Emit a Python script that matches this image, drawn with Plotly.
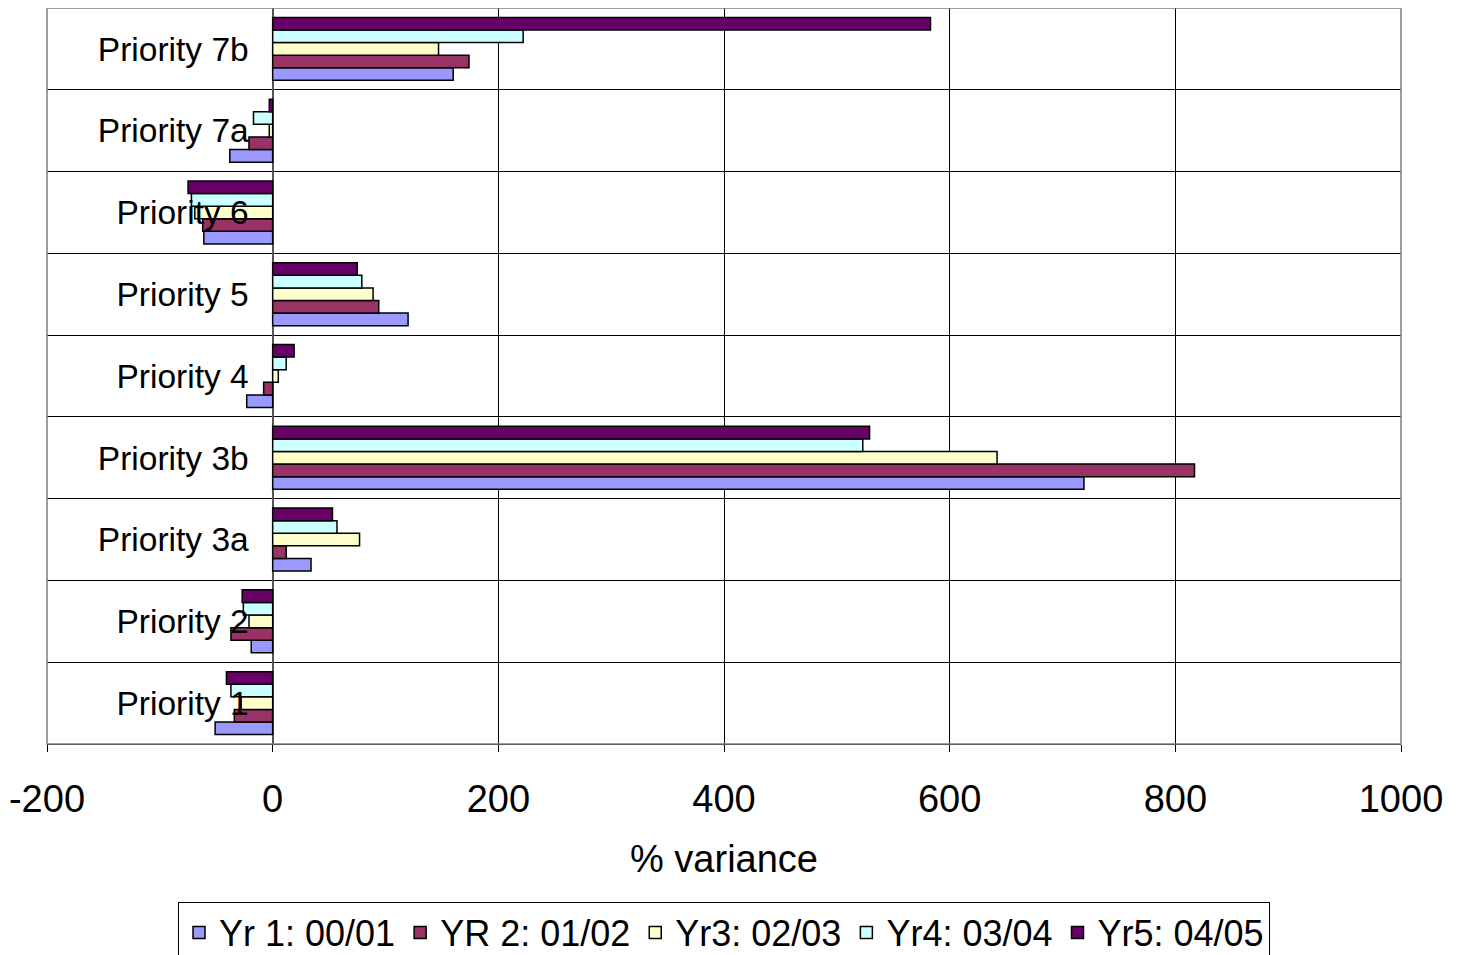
import plotly.graph_objects as go

categories = ["Priority 1", "Priority 2", "Priority 3a", "Priority 3b", "Priority 4",
              "Priority 5", "Priority 6", "Priority 7a", "Priority 7b"]
yr1 = [-51, -19, 34, 719, -23, 120, -61, -38, 160]
yr2 = [-34, -37, 12, 817, -8, 94, -62, -21, 174]
yr3 = [-28, -21, 77, 642, 5, 89, -69, -3, 147]
yr4 = [-37, -26, 57, 523, 12, 79, -72, -17, 222]
yr5 = [-41, -27, 53, 529, 19, 75, -75, -3, 583]
series_names = ["Yr 1: 00/01", "YR 2: 01/02", "Yr3: 02/03", "Yr4: 03/04", "Yr5: 04/05"]
series_values = [yr1, yr2, yr3, yr4, yr5]
colors = ["#9999FF", "#993366", "#FFFFCC", "#CCFFFF", "#660066"]
x_ticks = [-200, 0, 200, 400, 600, 800, 1000]

fig = go.Figure()
for name, vals, col in zip(series_names, series_values, colors):
    fig.add_trace(go.Bar(
        y=categories, x=vals, name=name, orientation="h",
        marker=dict(color=col, line=dict(color="black", width=1.5)),
    ))

font_family = "Liberation Sans, Arial, sans-serif"
fig.update_layout(
    width=1459, height=955,
    margin=dict(l=39, r=66, t=0, b=219, autoexpand=False),
    plot_bgcolor="white", paper_bgcolor="white",
    barmode="group", bargap=0.23, bargroupgap=0,
    font=dict(family=font_family, size=32, color="black"),
    showlegend=True,
    legend=dict(orientation="h", x=0.5, xanchor="center", y=-0.214, yanchor="top",
                bordercolor="black", borderwidth=1, font=dict(size=36),
                traceorder="normal", itemwidth=30, tracegroupgap=0),
    xaxis=dict(range=[-200, 1000], tickvals=x_ticks, ticktext=[str(v) for v in x_ticks],
               automargin=False,
               showgrid=True, gridcolor="#000000", gridwidth=1,
               zeroline=True, zerolinecolor="#555555", zerolinewidth=1.5,
               showline=True, linecolor="#000000", linewidth=1,
               ticks="outside", ticklen=7, tickcolor="black", ticklabelstandoff=14,
               tickfont=dict(size=38),
               title=dict(text="% variance", font=dict(size=38), standoff=26)),
    yaxis=dict(type="category", categoryorder="array", categoryarray=categories,
               anchor="free", position=(0 - (-200)) / 1200, automargin=False,
               tickson="boundaries", showgrid=True, gridcolor="#000000", gridwidth=1,
               showline=False, ticks="", ticklabelstandoff=24,
               tickfont=dict(size=33.5)),
)
fig.add_shape(type="rect", xref="paper", yref="paper", x0=0, x1=1, y0=0, y1=1,
              line=dict(color="#808080", width=1.5), fillcolor="rgba(0,0,0,0)", layer="above")

fig.write_html("out.html")
